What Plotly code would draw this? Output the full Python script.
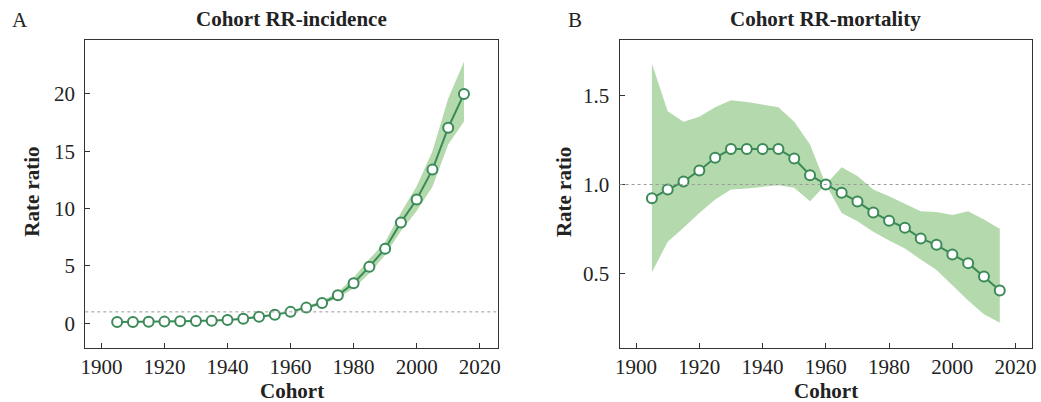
import plotly.graph_objects as go

cohort = [1905, 1910, 1915, 1920, 1925, 1930, 1935, 1940, 1945, 1950, 1955, 1960,
          1965, 1970, 1975, 1980, 1985, 1990, 1995, 2000, 2005, 2010, 2015]

inc_rr = [0.12, 0.12, 0.13, 0.15, 0.18, 0.2, 0.23, 0.3, 0.4, 0.58, 0.75, 1.0,
          1.37, 1.77, 2.44, 3.49, 4.94, 6.51, 8.8, 10.8, 13.4, 17.05, 20.0]
inc_lo = [0.1, 0.1, 0.11, 0.13, 0.16, 0.18, 0.2, 0.27, 0.36, 0.52, 0.7, 0.95,
          1.28, 1.62, 2.2, 3.05, 4.35, 5.95, 8.05, 9.8, 11.9, 15.6, 17.6]
inc_hi = [0.14, 0.14, 0.15, 0.17, 0.2, 0.23, 0.26, 0.34, 0.45, 0.62, 0.82, 1.07,
          1.48, 1.95, 2.72, 4.0, 5.6, 7.1, 9.65, 11.95, 15.0, 19.6, 22.8]

mor_rr = [0.923, 0.972, 1.017, 1.079, 1.15, 1.199, 1.199, 1.199, 1.199, 1.146, 1.052, 1.0,
          0.953, 0.904, 0.843, 0.796, 0.757, 0.697, 0.661, 0.607, 0.558, 0.483, 0.404]
mor_lo = [0.507, 0.678, 0.757, 0.84, 0.916, 0.972, 0.978, 0.989, 0.996, 0.981, 0.906, 1.0,
          0.84, 0.794, 0.734, 0.685, 0.64, 0.579, 0.519, 0.434, 0.348, 0.27, 0.223]
mor_hi = [1.68, 1.412, 1.352, 1.38, 1.434, 1.474, 1.464, 1.449, 1.434, 1.352, 1.225, 1.0,
          1.097, 1.047, 0.972, 0.934, 0.893, 0.85, 0.845, 0.828, 0.85, 0.803, 0.751]

x_ticks = [1900, 1920, 1940, 1960, 1980, 2000, 2020]
inc_ticks = [0, 5, 10, 15, 20]
mor_ticks = [0.5, 1.0, 1.5]
mor_tick_text = ["0.5", "1.0", "1.5"]

titles = ["Cohort RR-incidence", "Cohort RR-mortality"]
panel_labels = ["A", "B"]

W, H = 1041, 402
LINE = "#3b8a58"
BAND = "#b3d9ad"
FONT = "Liberation Serif, Times New Roman, serif"

fig = go.Figure()

def add_panel(xa, ya, lo, hi, rr):
    fig.add_trace(go.Scatter(x=cohort, y=lo, mode="lines", line=dict(width=0, color=BAND),
                             xaxis=xa, yaxis=ya, showlegend=False, hoverinfo="skip"))
    fig.add_trace(go.Scatter(x=cohort, y=hi, mode="lines", line=dict(width=0, color=BAND),
                             fill="tonexty", fillcolor=BAND,
                             xaxis=xa, yaxis=ya, showlegend=False, hoverinfo="skip"))
    fig.add_trace(go.Scatter(x=cohort, y=rr, mode="lines+markers",
                             line=dict(width=2, color=LINE),
                             marker=dict(size=10, color="white", line=dict(width=2, color=LINE)),
                             xaxis=xa, yaxis=ya, showlegend=False))

add_panel("x", "y", inc_lo, inc_hi, inc_rr)
add_panel("x2", "y2", mor_lo, mor_hi, mor_rr)

def px(x):
    return x / W

def py(y):
    return 1 - y / H

dom_a = [px(81), px(497)]
dom_b = [px(620), px(1036)]
dom_y = [py(348), py(40)]

axis_common = dict(showline=True, linecolor="#333333", linewidth=1.2, mirror=True,
                   ticks="inside", ticklen=5, tickwidth=1, tickcolor="#333333",
                   showgrid=False, zeroline=False,
                   tickfont=dict(family=FONT, size=21, color="#222222"))

fig.update_layout(
    width=W, height=H,
    margin=dict(l=0, r=0, t=0, b=0),
    paper_bgcolor="white", plot_bgcolor="white",
    xaxis=dict(domain=dom_a, range=[1894.9, 2025.7], tickvals=x_ticks, anchor="y",
               ticklabelstandoff=0, **axis_common),
    yaxis=dict(domain=dom_y, range=[-2.15, 24.7], tickvals=inc_ticks, anchor="x",
               ticklabelstandoff=5, **axis_common),
    xaxis2=dict(domain=dom_b, range=[1894.8, 2025.2], tickvals=x_ticks, anchor="y2",
                ticklabelstandoff=0, **axis_common),
    yaxis2=dict(domain=dom_y, range=[0.081, 1.812], tickvals=mor_ticks, ticktext=mor_tick_text,
                anchor="x2", ticklabelstandoff=5, **axis_common),
)

# reference lines at RR = 1
fig.add_shape(type="line", xref="x domain", yref="y", x0=0, x1=1, y0=1, y1=1,
              line=dict(color="#9a9a9a", width=1, dash="dot"))
fig.add_shape(type="line", xref="x2 domain", yref="y2", x0=0, x1=1, y0=1, y1=1,
              line=dict(color="#9a9a9a", width=1, dash="dot"))

ann = []
for i, (dom, ttl, lab) in enumerate(zip([dom_a, dom_b], titles, panel_labels)):
    cx = (dom[0] + dom[1]) / 2
    ann.append(dict(text="<b>" + ttl + "</b>", x=cx, y=py(19), xref="paper", yref="paper",
                    xanchor="center", yanchor="middle", showarrow=False,
                    font=dict(family=FONT, size=21, color="#222222")))
    ann.append(dict(text="<b>Cohort</b>", x=cx, y=py(391), xref="paper", yref="paper",
                    xanchor="center", yanchor="middle", showarrow=False,
                    font=dict(family=FONT, size=21, color="#222222")))
lab_x = [px(15), px(575)]
ylab_x = [px(27), px(564)]
for i in range(2):
    ann.append(dict(text=panel_labels[i], x=lab_x[i], y=py(20), xref="paper", yref="paper",
                    xanchor="center", yanchor="middle", showarrow=False,
                    font=dict(family=FONT, size=21, color="#222222")))
    ann.append(dict(text="<b>Rate ratio</b>", x=ylab_x[i], y=py(192), xref="paper", yref="paper",
                    xanchor="center", yanchor="middle", showarrow=False, textangle=-90,
                    font=dict(family=FONT, size=21, color="#222222")))
fig.update_layout(annotations=ann)

fig.write_html("out.html")
